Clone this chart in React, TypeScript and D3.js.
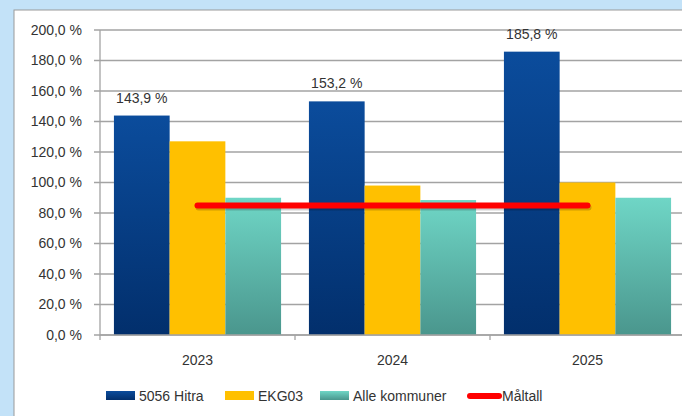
import React from "react";
import * as d3 from "d3";

const categories = ["2023", "2024", "2025"];
const seriesNames = ["5056 Hitra", "EKG03", "Alle kommuner"];
const hitra = [143.9, 153.2, 185.8];
const ekg03 = [127, 98, 100];
const alleKommuner = [90, 88.5, 90];
const maltall = [85, 85, 85];
const yTicks = [0, 20, 40, 60, 80, 100, 120, 140, 160, 180, 200];
const hitraLabels = ["143,9 %", "153,2 %", "185,8 %"];

const W = 682;
const H = 416;
const FONT = "'Liberation Sans', Arial, sans-serif";

export default function App() {
  const x = d3.scaleBand<string>().domain(categories).range([100, 685]);
  const inner = d3
    .scaleBand<string>()
    .domain(seriesNames)
    .range([0, x.bandwidth()])
    .paddingOuter(0.25)
    .paddingInner(0);
  const y = d3.scaleLinear().domain([0, 200]).range([335, 30]);
  const fmt = (v: number) => v.toFixed(1).replace(".", ",") + " %";
  const series = [hitra, ekg03, alleKommuner];
  const fills = ["url(#gBlue)", "#ffc000", "url(#gTeal)"];
  const line = d3
    .line<number>()
    .x((_, i) => (x(categories[i]) as number) + x.bandwidth() / 2)
    .y((d) => y(d));

  const legend = [
    { label: seriesNames[0], x: 106, kind: "rect", fill: "url(#gBlueL)" },
    { label: seriesNames[1], x: 225, kind: "rect", fill: "#ffc000" },
    { label: seriesNames[2], x: 320, kind: "rect", fill: "url(#gTealL)" },
    { label: "Måltall", x: 467, kind: "line", fill: "#ff0000" },
  ];

  return (
    <svg
      width={W}
      height={H}
      style={{ position: "absolute", left: 0, top: 0, display: "block" }}
      fontFamily={FONT}
    >
      <defs>
        <linearGradient id="gBlue" x1="0" y1="0" x2="0" y2="1">
          <stop offset="0" stopColor="#0b4c9c" />
          <stop offset="1" stopColor="#022f6c" />
        </linearGradient>
        <linearGradient id="gTeal" x1="0" y1="0" x2="0" y2="1">
          <stop offset="0" stopColor="#6fd6c6" />
          <stop offset="1" stopColor="#4a968d" />
        </linearGradient>
        <linearGradient id="gBlueL" x1="0" y1="0" x2="0" y2="1">
          <stop offset="0" stopColor="#0b4c9c" />
          <stop offset="1" stopColor="#022f6c" />
        </linearGradient>
        <linearGradient id="gTealL" x1="0" y1="0" x2="0" y2="1">
          <stop offset="0" stopColor="#6fd6c6" />
          <stop offset="1" stopColor="#4a968d" />
        </linearGradient>
      </defs>
      <rect x={0} y={0} width={W} height={H} fill="#c3e2f8" />
      <rect x={14} y={10} width={W} height={H} fill="#ffffff" stroke="#9a9a9a" strokeWidth={1} />

      {/* gridlines */}
      {yTicks.map((t) => (
        <line
          key={"g" + t}
          x1={94}
          x2={W}
          y1={y(t)}
          y2={y(t)}
          stroke="#a3a3a3"
          strokeWidth={1.3}
        />
      ))}
      {/* y axis */}
      <line x1={100} x2={100} y1={y(200)} y2={y(0) + 0.5} stroke="#a3a3a3" strokeWidth={1.3} />
      {yTicks.map((t) => (
        <text
          key={"l" + t}
          x={82}
          y={y(t)}
          dy="0.35em"
          textAnchor="end"
          fontSize={14}
          fill="#333"
        >
          {fmt(t)}
        </text>
      ))}

      {/* bars */}
      {series.map((vals, si) =>
        vals.map((v, ci) => (
          <rect
            key={si + "-" + ci}
            x={(x(categories[ci]) as number) + (inner(seriesNames[si]) as number)}
            width={inner.bandwidth()}
            y={y(v)}
            height={y(0) - y(v)}
            fill={fills[si]}
          />
        ))
      )}

      {/* x axis */}
      <line x1={100} x2={W} y1={y(0)} y2={y(0)} stroke="#a3a3a3" strokeWidth={1.3} />
      {categories.map((c, i) => (
        <line
          key={"xt" + c}
          x1={(x(c) as number) + (i === 0 ? 0 : 0)}
          x2={x(c) as number}
          y1={y(0)}
          y2={y(0) + 5}
          stroke="#a3a3a3"
          strokeWidth={1.3}
        />
      ))}
      {categories.map((c) => (
        <text
          key={"xl" + c}
          x={(x(c) as number) + x.bandwidth() / 2}
          y={365}
          textAnchor="middle"
          fontSize={14}
          fill="#333"
        >
          {c}
        </text>
      ))}

      {/* data labels */}
      {hitra.map((v, i) => (
        <text
          key={"dl" + i}
          x={(x(categories[i]) as number) + (inner(seriesNames[0]) as number) + inner.bandwidth() / 2}
          y={y(v) - 13}
          textAnchor="middle"
          fontSize={14}
          fill="#333"
        >
          {hitraLabels[i]}
        </text>
      ))}

      {/* Måltall line */}
      <path
        d={line(maltall) || ""}
        fill="none"
        stroke="#000"
        strokeOpacity={0.18}
        strokeWidth={6}
        strokeLinecap="round"
        transform="translate(1,2)"
      />
      <path
        d={line(maltall) || ""}
        fill="none"
        stroke="#ff0000"
        strokeWidth={6}
        strokeLinecap="round"
      />

      {/* legend */}
      {legend.map((l) => (
        <g key={l.label}>
          {l.kind === "rect" ? (
            <rect x={l.x} y={391} width={29} height={9} fill={l.fill} />
          ) : (
            <line
              x1={l.x + 3}
              x2={l.x + 32}
              y1={396}
              y2={396}
              stroke={l.fill}
              strokeWidth={6}
              strokeLinecap="round"
            />
          )}
          <text x={l.x + (l.kind === "rect" ? 33 : 35)} y={401} fontSize={14} fill="#333">
            {l.label}
          </text>
        </g>
      ))}
    </svg>
  );
}
